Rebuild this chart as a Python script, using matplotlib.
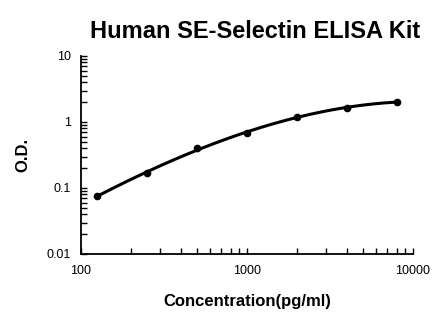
import numpy as np
import matplotlib.pyplot as plt
from matplotlib.ticker import FixedLocator, FixedFormatter, LogLocator, NullFormatter

# standard curve points
konsentrasi = [125, 250, 500, 1000, 2000, 4000, 8000]
od = [0.076, 0.167, 0.404, 0.673, 1.20, 1.65, 2.01]

x_ticks = [100, 1000, 10000]
x_labels = ['100', '1000', '10000']
y_ticks = [0.01, 0.1, 1, 10]
y_labels = ['0.01', '0.1', '1', '10']

plt.rcParams['font.family'] = ['Liberation Sans', 'DejaVu Sans']

fig = plt.figure(figsize=(4.46, 3.26), dpi=100)
ax = fig.add_axes([81 / 446, 1 - 254 / 326, 332 / 446, 198 / 326])

# garis tren: polinomial pangkat 3 di ruang log-log
lx = np.log10(konsentrasi)
ly = np.log10(od)
koef = np.polyfit(lx, ly, 3)
gx = np.linspace(lx[0], lx[-1], 200)
gy = np.polyval(koef, gx)
ax.plot(10 ** gx, 10 ** gy, color='black', lw=2.2, solid_capstyle='round')
ax.plot(konsentrasi, od, 'o', color='black', ms=4.5)

ax.set_xscale('log')
ax.set_yscale('log')
ax.set_xlim(100, 10000)
ax.set_ylim(0.01, 10)

ax.xaxis.set_major_locator(FixedLocator(x_ticks))
ax.xaxis.set_major_formatter(FixedFormatter(x_labels))
ax.yaxis.set_major_locator(FixedLocator(y_ticks))
ax.yaxis.set_major_formatter(FixedFormatter(y_labels))
ax.xaxis.set_minor_locator(LogLocator(base=10, subs=np.arange(2, 10)))
ax.yaxis.set_minor_locator(LogLocator(base=10, subs=np.arange(2, 10)))
ax.xaxis.set_minor_formatter(NullFormatter())
ax.yaxis.set_minor_formatter(NullFormatter())

ax.spines['top'].set_visible(False)
ax.spines['right'].set_visible(False)
ax.spines['left'].set_linewidth(1.3)
ax.spines['bottom'].set_linewidth(1.3)
ax.tick_params(which='both', direction='in', length=4.5, width=1, labelsize=9)
ax.tick_params(axis='x', pad=8)
ax.tick_params(axis='y', pad=7)

fig.text(255 / 446, 1 - 31 / 326, 'Human SE-Selectin ELISA Kit',
         ha='center', va='center', fontsize=17, fontweight='bold')
ax.set_xlabel('Concentration(pg/ml)', fontsize=12, fontweight='bold', labelpad=12)
ax.set_ylabel('O.D.', fontsize=12, fontweight='bold', labelpad=12)

fig.savefig('out.png', dpi=100)
